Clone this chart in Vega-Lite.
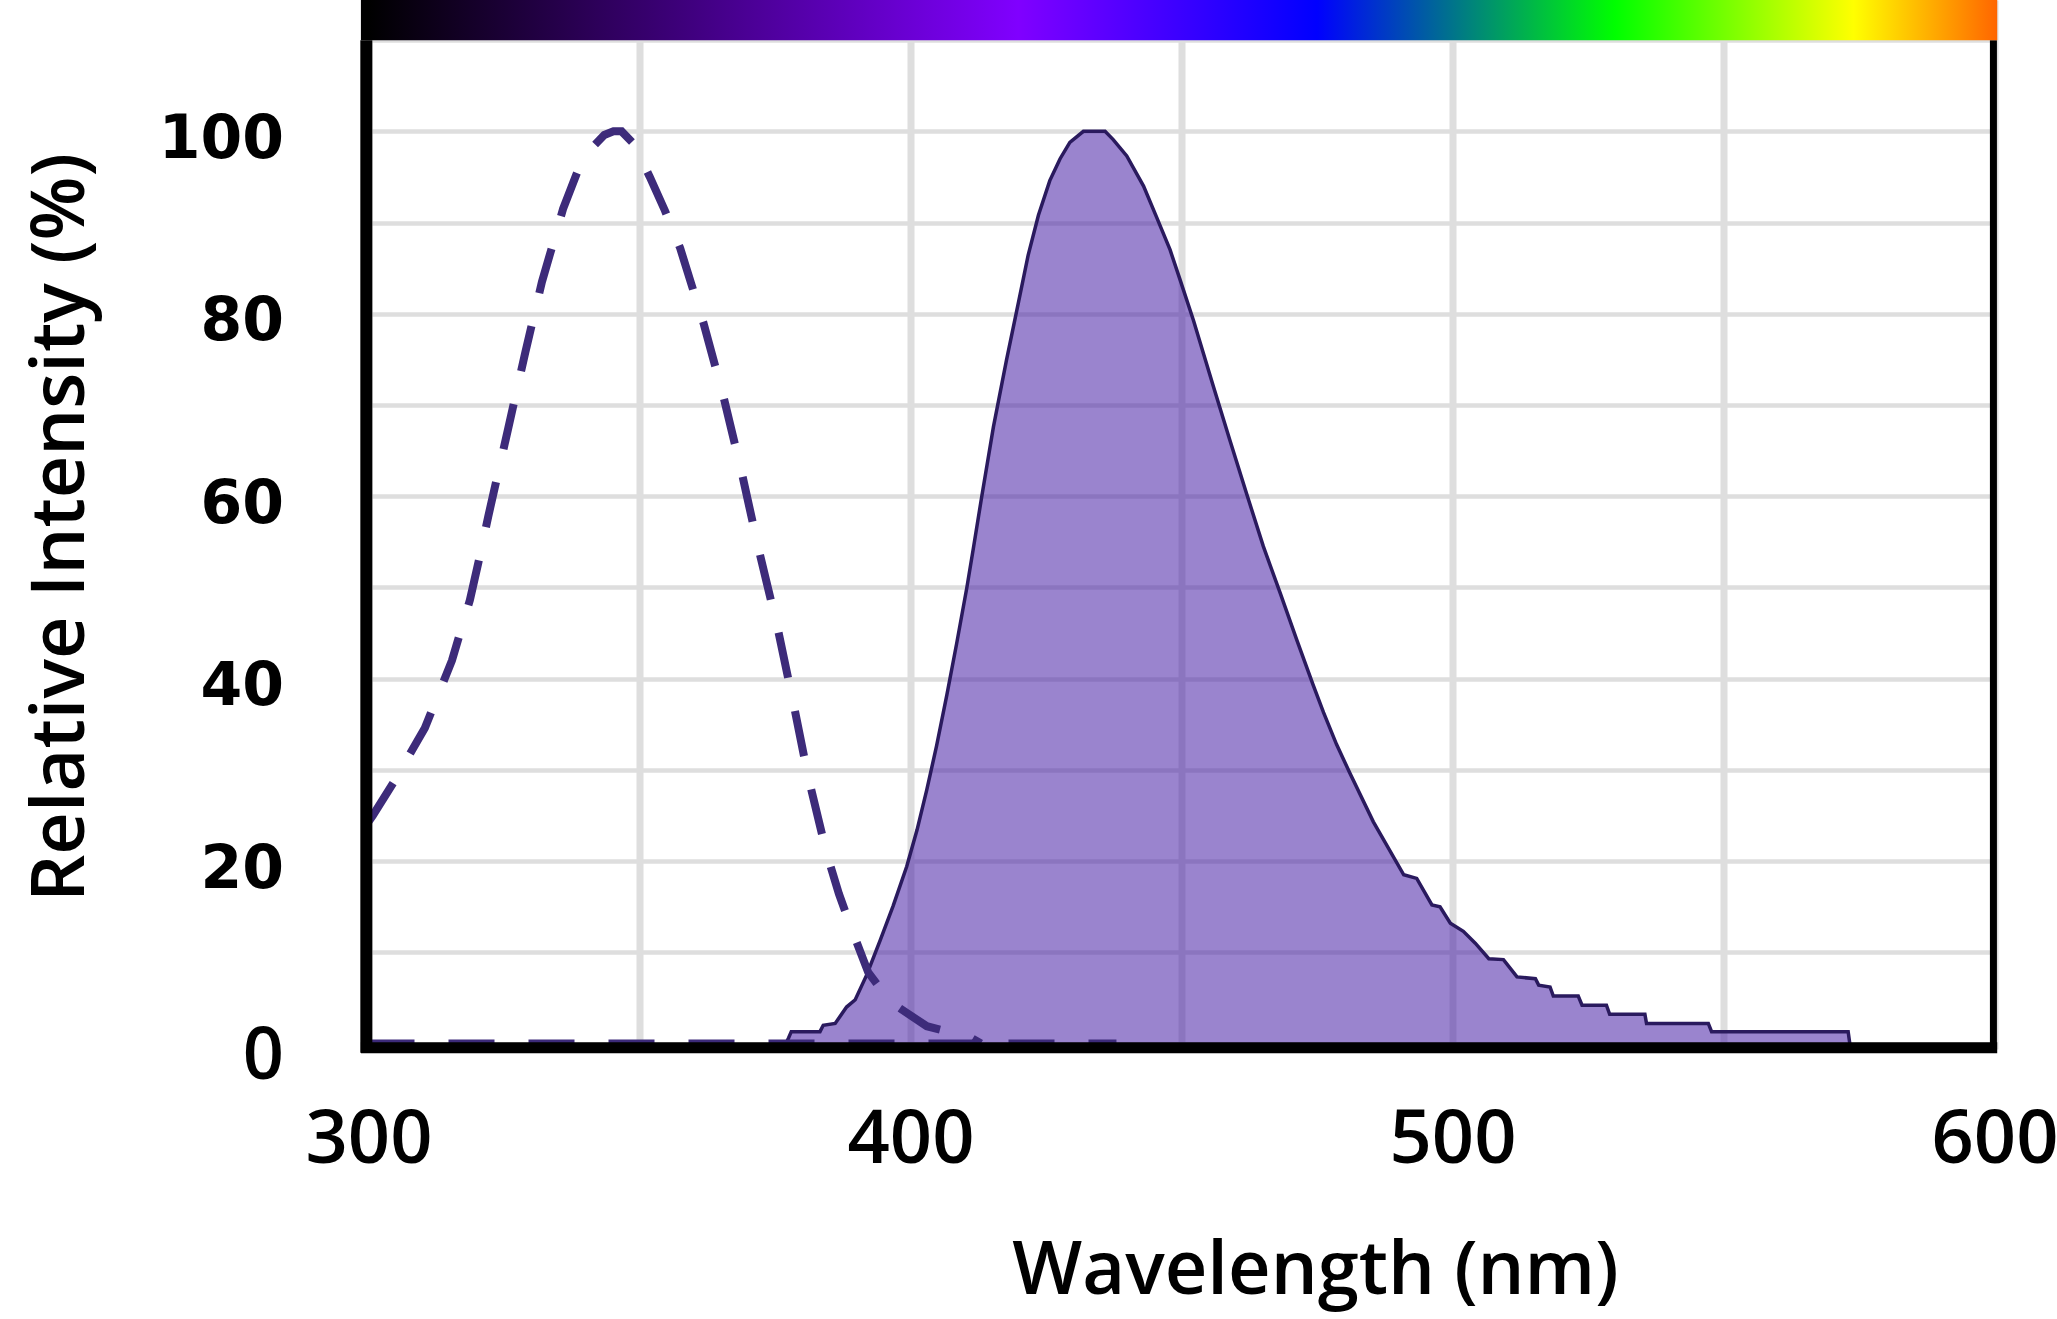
{
  "$schema": "https://vega.github.io/schema/vega-lite/v6.json",
  "width": 1626,
  "height": 1049,
  "autosize": {"type": "none"},
  "padding": {"left": 368.5, "top": 0, "right": 62.5, "bottom": 270},
  "background": "white",
  "config": {"view": {"stroke": null}},
  "datasets": {
    "emission": [
      {"nm": 377.0, "v": 0}, {"nm": 377.5, "v": 0.6}, {"nm": 378.0, "v": 1.3}, {"nm": 383.3, "v": 1.3},
      {"nm": 383.9, "v": 2.0}, {"nm": 386.1, "v": 2.2}, {"nm": 388.2, "v": 4.0}, {"nm": 389.8, "v": 4.8},
      {"nm": 391.9, "v": 7.5}, {"nm": 394.4, "v": 11.3}, {"nm": 396.8, "v": 15.1}, {"nm": 399.3, "v": 19.4},
      {"nm": 401.2, "v": 23.4}, {"nm": 403.0, "v": 27.8}, {"nm": 404.8, "v": 32.6}, {"nm": 406.7, "v": 38.2},
      {"nm": 408.5, "v": 43.8}, {"nm": 410.4, "v": 50.0}, {"nm": 411.6, "v": 54.3}, {"nm": 413.1, "v": 59.8},
      {"nm": 415.3, "v": 67.6}, {"nm": 417.7, "v": 74.9}, {"nm": 419.9, "v": 81.2}, {"nm": 421.7, "v": 86.4},
      {"nm": 423.6, "v": 90.8}, {"nm": 425.7, "v": 94.6}, {"nm": 427.6, "v": 97.0}, {"nm": 429.4, "v": 98.8},
      {"nm": 431.9, "v": 100}, {"nm": 435.9, "v": 100}, {"nm": 437.4, "v": 99.1}, {"nm": 439.9, "v": 97.3},
      {"nm": 443.0, "v": 94.0}, {"nm": 445.4, "v": 90.6}, {"nm": 447.9, "v": 87.0}, {"nm": 449.7, "v": 83.8},
      {"nm": 452.2, "v": 79.3}, {"nm": 455.9, "v": 72.0}, {"nm": 458.9, "v": 66.2}, {"nm": 462.0, "v": 60.3},
      {"nm": 465.1, "v": 54.5}, {"nm": 468.2, "v": 49.4}, {"nm": 471.3, "v": 44.2}, {"nm": 474.3, "v": 39.3},
      {"nm": 476.2, "v": 36.3}, {"nm": 478.6, "v": 32.8}, {"nm": 481.1, "v": 29.6}, {"nm": 485.4, "v": 24.3},
      {"nm": 491.0, "v": 18.5}, {"nm": 493.4, "v": 18.1}, {"nm": 496.2, "v": 15.2}, {"nm": 497.7, "v": 15.0},
      {"nm": 499.6, "v": 13.2}, {"nm": 502.0, "v": 12.3}, {"nm": 504.2, "v": 11.0}, {"nm": 506.7, "v": 9.3},
      {"nm": 509.4, "v": 9.2}, {"nm": 511.9, "v": 7.3}, {"nm": 515.3, "v": 7.1}, {"nm": 515.9, "v": 6.4},
      {"nm": 518.0, "v": 6.2}, {"nm": 518.6, "v": 5.2}, {"nm": 523.2, "v": 5.2}, {"nm": 523.9, "v": 4.2},
      {"nm": 528.4, "v": 4.2}, {"nm": 529.0, "v": 3.2}, {"nm": 535.5, "v": 3.2}, {"nm": 535.8, "v": 2.2},
      {"nm": 547.2, "v": 2.2}, {"nm": 547.8, "v": 1.3}, {"nm": 573.0, "v": 1.3}, {"nm": 573.3, "v": 0}
    ],
    "excitation": [
      {"nm": 300.0, "v": 24.3}, {"nm": 300.8, "v": 25.0}, {"nm": 304.9, "v": 28.9}, {"nm": 310.4, "v": 34.6},
      {"nm": 315.4, "v": 42.0}, {"nm": 318.7, "v": 48.6}, {"nm": 320.3, "v": 52.8}, {"nm": 322.1, "v": 57.8},
      {"nm": 325.8, "v": 67.5}, {"nm": 328.9, "v": 75.7}, {"nm": 332.0, "v": 83.5}, {"nm": 335.9, "v": 91.5},
      {"nm": 338.5, "v": 95.5}, {"nm": 340.9, "v": 98.0}, {"nm": 343.5, "v": 99.6}, {"nm": 345.2, "v": 100},
      {"nm": 346.7, "v": 100}, {"nm": 349.0, "v": 98.6}, {"nm": 351.9, "v": 95.0}, {"nm": 354.7, "v": 91.3},
      {"nm": 357.5, "v": 87.2}, {"nm": 361.8, "v": 79.0}, {"nm": 365.5, "v": 70.9}, {"nm": 368.9, "v": 62.5},
      {"nm": 371.9, "v": 54.4}, {"nm": 375.5, "v": 45.5}, {"nm": 378.4, "v": 37.3}, {"nm": 381.1, "v": 29.3},
      {"nm": 384.5, "v": 20.9}, {"nm": 386.8, "v": 16.4}, {"nm": 389.1, "v": 12.6}, {"nm": 392.2, "v": 7.8},
      {"nm": 395.0, "v": 5.6}, {"nm": 397.7, "v": 4.0}, {"nm": 403.0, "v": 1.9}, {"nm": 411.0, "v": 0.7},
      {"nm": 413.0, "v": 0}
    ],
    "baseline": [{"nm": 300, "v": 0}, {"nm": 438, "v": 0}],
    "leftBorder": [{"nm": 299.6, "v": -1, "v2": 110}],
    "bottomBorder": [{"nm": 298.6, "nm2": 600.5, "v": -0.45}],
    "rightBorder": [{"nm": 599.8, "v": -0.45, "v2": 110}],
    "spectrum": [{"nm": 298.6, "nm2": 600.5, "v": 110, "v2": 114.4}]
  },
  "layer": [
    {
      "data": {"name": "emission"},
      "mark": {"type": "area", "color": "#4b24a8", "fillOpacity": 0.56},
      "encoding": {
        "x": {
          "field": "nm", "type": "quantitative",
          "scale": {"domain": [300, 600], "nice": false, "zero": false},
          "axis": {
            "values": [300, 350, 400, 450, 500, 550, 600],
            "labelExpr": "datum.value % 100 === 0 ? datum.label : ''",
            "ticks": false, "domain": false, "grid": true,
            "gridColor": "#dedede", "gridWidth": 7,
            "labelFont": "Open Sans", "labelFontSize": 74, "labelFontWeight": 600,
            "labelColor": "#000000", "labelBaseline": "alphabetic", "labelPadding": 113,
            "labelFlush": false, "labelOverlap": false, "labelBound": false,
            "title": "Wavelength (nm)", "titleFont": "Open Sans", "titleFontSize": 74,
            "titleFontWeight": 600, "titleColor": "#000000",
            "titleX": 946.5, "titleY": 244, "titleAlign": "center", "titleBaseline": "alphabetic"
          }
        },
        "y": {
          "field": "v", "type": "quantitative",
          "scale": {"domain": [-0.6, 114.4], "nice": false, "zero": false},
          "axis": {
            "values": [0, 10, 20, 30, 40, 50, 60, 70, 80, 90, 100, 110],
            "labelExpr": "datum.value % 20 === 0 ? datum.label : ''",
            "ticks": false, "domain": false, "grid": true,
            "gridColor": "#dedede", "gridWidth": 4.5,
            "labelFont": {"condition": {"test": "datum.value === 0", "value": "Open Sans"}, "value": "DejaVu Sans"},
            "labelFontSize": {"condition": {"test": "datum.value === 0", "value": 72}, "value": 60},
            "labelFontWeight": {"condition": {"test": "datum.value === 0", "value": 600}, "value": "bold"},
            "labelOffset": {"condition": {"test": "datum.value === 0", "value": 35}, "value": 26},
            "labelColor": "#000000", "labelBaseline": "alphabetic", "labelAlign": "right",
            "labelPadding": 85, "labelFlush": false, "labelOverlap": false, "labelBound": false,
            "title": "Relative Intensity (%)", "titleFont": "Open Sans", "titleFontSize": 74,
            "titleFontWeight": 600, "titleColor": "#000000", "titleAngle": 270,
            "titleX": -285.5, "titleY": 527, "titleAlign": "center", "titleBaseline": "alphabetic"
          }
        }
      }
    },
    {
      "data": {"name": "emission"},
      "mark": {"type": "line", "color": "#2a1a5e", "strokeWidth": 3.5},
      "encoding": {
        "x": {"field": "nm", "type": "quantitative"},
        "y": {"field": "v", "type": "quantitative"}
      }
    },
    {
      "data": {"name": "excitation"},
      "mark": {"type": "line", "color": "#3d2b7a", "strokeWidth": 8, "strokeDash": [46, 34]},
      "encoding": {
        "x": {"field": "nm", "type": "quantitative"},
        "y": {"field": "v", "type": "quantitative"}
      }
    },
    {
      "data": {"name": "baseline"},
      "mark": {"type": "line", "color": "#3d2b7a", "strokeWidth": 8, "strokeDash": [46, 34]},
      "encoding": {
        "x": {"field": "nm", "type": "quantitative"},
        "y": {"field": "v", "type": "quantitative"}
      }
    },
    {
      "data": {"name": "leftBorder"},
      "mark": {"type": "rule", "color": "#000000", "strokeWidth": 12},
      "encoding": {
        "x": {"field": "nm", "type": "quantitative"},
        "y": {"field": "v", "type": "quantitative"},
        "y2": {"field": "v2"}
      }
    },
    {
      "data": {"name": "bottomBorder"},
      "mark": {"type": "rule", "color": "#000000", "strokeWidth": 11},
      "encoding": {
        "x": {"field": "nm", "type": "quantitative"},
        "x2": {"field": "nm2"},
        "y": {"field": "v", "type": "quantitative"}
      }
    },
    {
      "data": {"name": "rightBorder"},
      "mark": {"type": "rule", "color": "#000000", "strokeWidth": 7},
      "encoding": {
        "x": {"field": "nm", "type": "quantitative"},
        "y": {"field": "v", "type": "quantitative"},
        "y2": {"field": "v2"}
      }
    },
    {
      "data": {"name": "spectrum"},
      "mark": {
        "type": "rect",
        "color": {
          "gradient": "linear", "x1": 0, "y1": 0, "x2": 1, "y2": 0,
          "stops": [
            {"offset": 0.0, "color": "#000000"},
            {"offset": 0.0046, "color": "#000000"},
            {"offset": 0.4018, "color": "#8000ff"},
            {"offset": 0.5843, "color": "#0000ff"},
            {"offset": 0.7665, "color": "#00ff00"},
            {"offset": 0.9122, "color": "#ffff00"},
            {"offset": 1.0, "color": "#ff6600"}
          ]
        }
      },
      "encoding": {
        "x": {"field": "nm", "type": "quantitative"},
        "x2": {"field": "nm2"},
        "y": {"field": "v", "type": "quantitative"},
        "y2": {"field": "v2"}
      }
    }
  ]
}
